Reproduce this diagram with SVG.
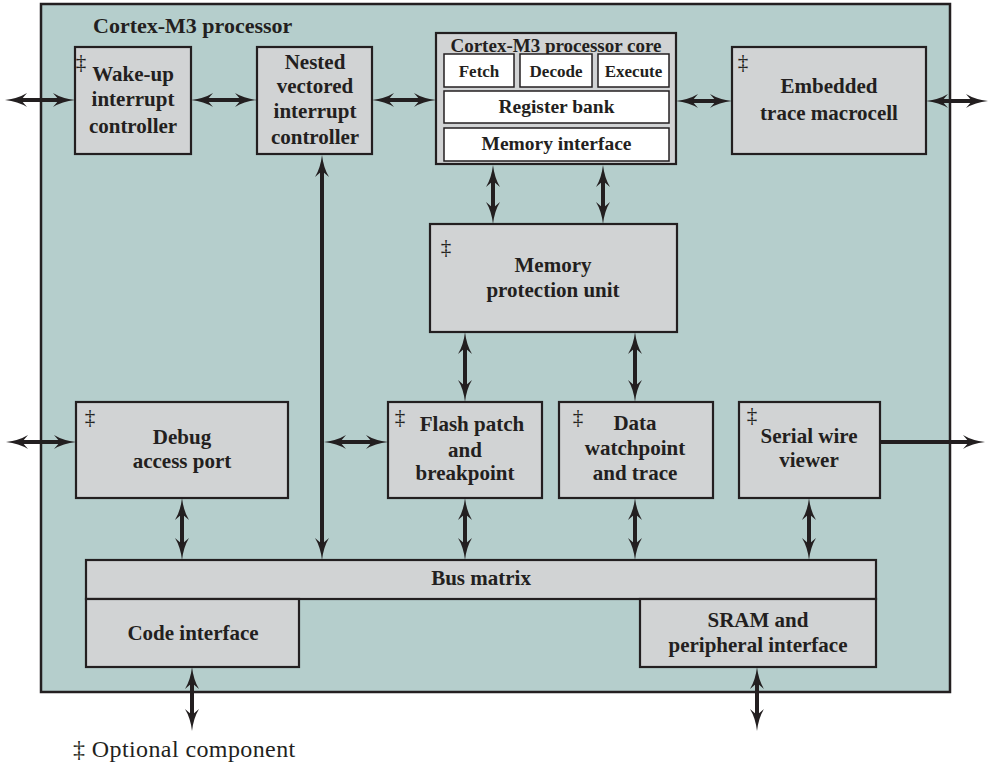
<svg xmlns="http://www.w3.org/2000/svg" width="990" height="765" viewBox="0 0 990 765">
<style>
  .outer{fill:#b5cecc;stroke:#231f20;stroke-width:2.5}
  .box{fill:#d1d3d4;stroke:#231f20;stroke-width:2.2}
  .wbox{fill:#ffffff;stroke:#231f20;stroke-width:1.5}
  text{font-family:"Liberation Serif","Times New Roman",serif;fill:#231f20}
  .t{font-size:21px;font-weight:bold;text-anchor:middle}
  .s{font-size:17px;font-weight:bold;text-anchor:middle}
  .m{font-size:19.5px;font-weight:bold;text-anchor:middle}
  .dg{font-size:21px;text-anchor:middle}
  .ln{stroke:#231f20;stroke-width:4;fill:none}
</style>
<defs>
  <marker id="ah" viewBox="0 -8 24 16" refX="6" refY="0" markerWidth="24" markerHeight="16" markerUnits="userSpaceOnUse" orient="auto-start-reverse">
    <path d="M0,-7 Q9,-1.5 22,0 Q9,1.5 0,7 L6,0 Z" fill="#231f20"/>
  </marker>
</defs>
<rect class="outer" x="41" y="4" width="909" height="688"/>
<text x="93" y="33" style="font-size:22px;font-weight:bold">Cortex-M3 processor</text>

<g id="wic">
  <rect class="box" x="75" y="47" width="116" height="107"/>
  <text class="dg" x="81" y="69">‡</text>
  <text class="t" x="133" y="81">Wake-up</text>
  <text class="t" x="133" y="106">interrupt</text>
  <text class="t" x="133" y="133">controller</text>
</g>
<g id="nvic">
  <rect class="box" x="257" y="47" width="115" height="107"/>
  <text class="t" x="315" y="69">Nested</text>
  <text class="t" x="315" y="93">vectored</text>
  <text class="t" x="315" y="118">interrupt</text>
  <text class="t" x="315" y="144">controller</text>
</g>
<g id="core">
  <rect class="box" x="436" y="33" width="240" height="131"/>
  <text x="556" y="52" style="font-size:19px;font-weight:bold;text-anchor:middle">Cortex-M3 processor core</text>
  <rect class="wbox" x="444" y="54" width="70" height="33"/>
  <text class="s" x="479" y="77">Fetch</text>
  <rect class="wbox" x="520" y="54" width="72" height="33"/>
  <text class="s" x="556" y="77">Decode</text>
  <rect class="wbox" x="598" y="54" width="71" height="33"/>
  <text class="s" x="633.5" y="77">Execute</text>
  <rect class="wbox" x="444" y="91" width="225" height="32"/>
  <text class="m" x="556.5" y="113">Register bank</text>
  <rect class="wbox" x="444" y="128" width="225" height="33"/>
  <text class="m" x="556.5" y="150">Memory interface</text>
</g>
<g id="etm">
  <rect class="box" x="732" y="47" width="194" height="107"/>
  <text class="dg" x="743" y="69">‡</text>
  <text class="t" x="829" y="93">Embedded</text>
  <text class="t" x="829" y="120">trace macrocell</text>
</g>
<g id="mpu">
  <rect class="box" x="430" y="224" width="247" height="108"/>
  <text class="dg" x="446" y="254">‡</text>
  <text class="t" x="553" y="272">Memory</text>
  <text class="t" x="553" y="297">protection unit</text>
</g>
<g id="dap">
  <rect class="box" x="76" y="402" width="212" height="96"/>
  <text class="dg" x="90" y="424">‡</text>
  <text class="t" x="182" y="444">Debug</text>
  <text class="t" x="182" y="468">access port</text>
</g>
<g id="fpb">
  <rect class="box" x="388" y="402" width="154" height="96"/>
  <text class="dg" x="400" y="424">‡</text>
  <text class="t" x="472" y="431">Flash patch</text>
  <text class="t" x="465" y="457">and</text>
  <text class="t" x="465" y="480">breakpoint</text>
</g>
<g id="dwt">
  <rect class="box" x="559" y="402" width="154" height="96"/>
  <text class="dg" x="578" y="424">‡</text>
  <text class="t" x="635" y="430">Data</text>
  <text class="t" x="635" y="455">watchpoint</text>
  <text class="t" x="635" y="480">and trace</text>
</g>
<g id="swv">
  <rect class="box" x="739" y="402" width="141" height="96"/>
  <text class="dg" x="752" y="422">‡</text>
  <text class="t" x="809" y="443">Serial wire</text>
  <text class="t" x="809" y="467">viewer</text>
</g>
<g id="bus">
  <rect class="box" x="86" y="560" width="790" height="39"/>
  <text class="t" x="481" y="585">Bus matrix</text>
</g>
<g id="code">
  <rect class="box" x="86" y="599" width="213" height="68"/>
  <text class="t" x="193" y="640">Code interface</text>
</g>
<g id="sram">
  <rect class="box" x="640" y="599" width="236" height="68"/>
  <text class="t" x="758" y="627">SRAM and</text>
  <text class="t" x="758" y="652">peripheral interface</text>
</g>

<g id="connectors">
  <line class="ln" x1="21" y1="100" x2="59" y2="100" marker-start="url(#ah)" marker-end="url(#ah)"/>
  <line class="ln" x1="207" y1="100" x2="241" y2="100" marker-start="url(#ah)" marker-end="url(#ah)"/>
  <line class="ln" x1="388" y1="100" x2="420" y2="100" marker-start="url(#ah)" marker-end="url(#ah)"/>
  <line class="ln" x1="692" y1="101" x2="716" y2="101" marker-start="url(#ah)" marker-end="url(#ah)"/>
  <line class="ln" x1="942" y1="101" x2="972" y2="101" marker-start="url(#ah)" marker-end="url(#ah)"/>
  <line class="ln" x1="493" y1="181" x2="493" y2="208" marker-start="url(#ah)" marker-end="url(#ah)"/>
  <line class="ln" x1="603" y1="181" x2="603" y2="208" marker-start="url(#ah)" marker-end="url(#ah)"/>
  <line class="ln" x1="465" y1="348" x2="465" y2="386" marker-start="url(#ah)" marker-end="url(#ah)"/>
  <line class="ln" x1="635" y1="348" x2="635" y2="386" marker-start="url(#ah)" marker-end="url(#ah)"/>
  <line class="ln" x1="322" y1="171" x2="322" y2="544" marker-start="url(#ah)" marker-end="url(#ah)"/>
  <line class="ln" x1="22" y1="442" x2="60" y2="442" marker-start="url(#ah)" marker-end="url(#ah)"/>
  <line class="ln" x1="340" y1="442" x2="372" y2="442" marker-start="url(#ah)" marker-end="url(#ah)"/>
  <line class="ln" x1="880" y1="442" x2="969" y2="442" marker-end="url(#ah)"/>
  <line class="ln" x1="182" y1="514" x2="182" y2="544" marker-start="url(#ah)" marker-end="url(#ah)"/>
  <line class="ln" x1="465" y1="514" x2="465" y2="544" marker-start="url(#ah)" marker-end="url(#ah)"/>
  <line class="ln" x1="635" y1="514" x2="635" y2="544" marker-start="url(#ah)" marker-end="url(#ah)"/>
  <line class="ln" x1="809" y1="514" x2="809" y2="544" marker-start="url(#ah)" marker-end="url(#ah)"/>
  <line class="ln" x1="192" y1="683" x2="192" y2="715" marker-start="url(#ah)" marker-end="url(#ah)"/>
  <line class="ln" x1="757" y1="683" x2="757" y2="715" marker-start="url(#ah)" marker-end="url(#ah)"/>
</g>
<text x="73" y="757" style="font-size:24px;letter-spacing:0.4px">‡ Optional component</text>
</svg>
